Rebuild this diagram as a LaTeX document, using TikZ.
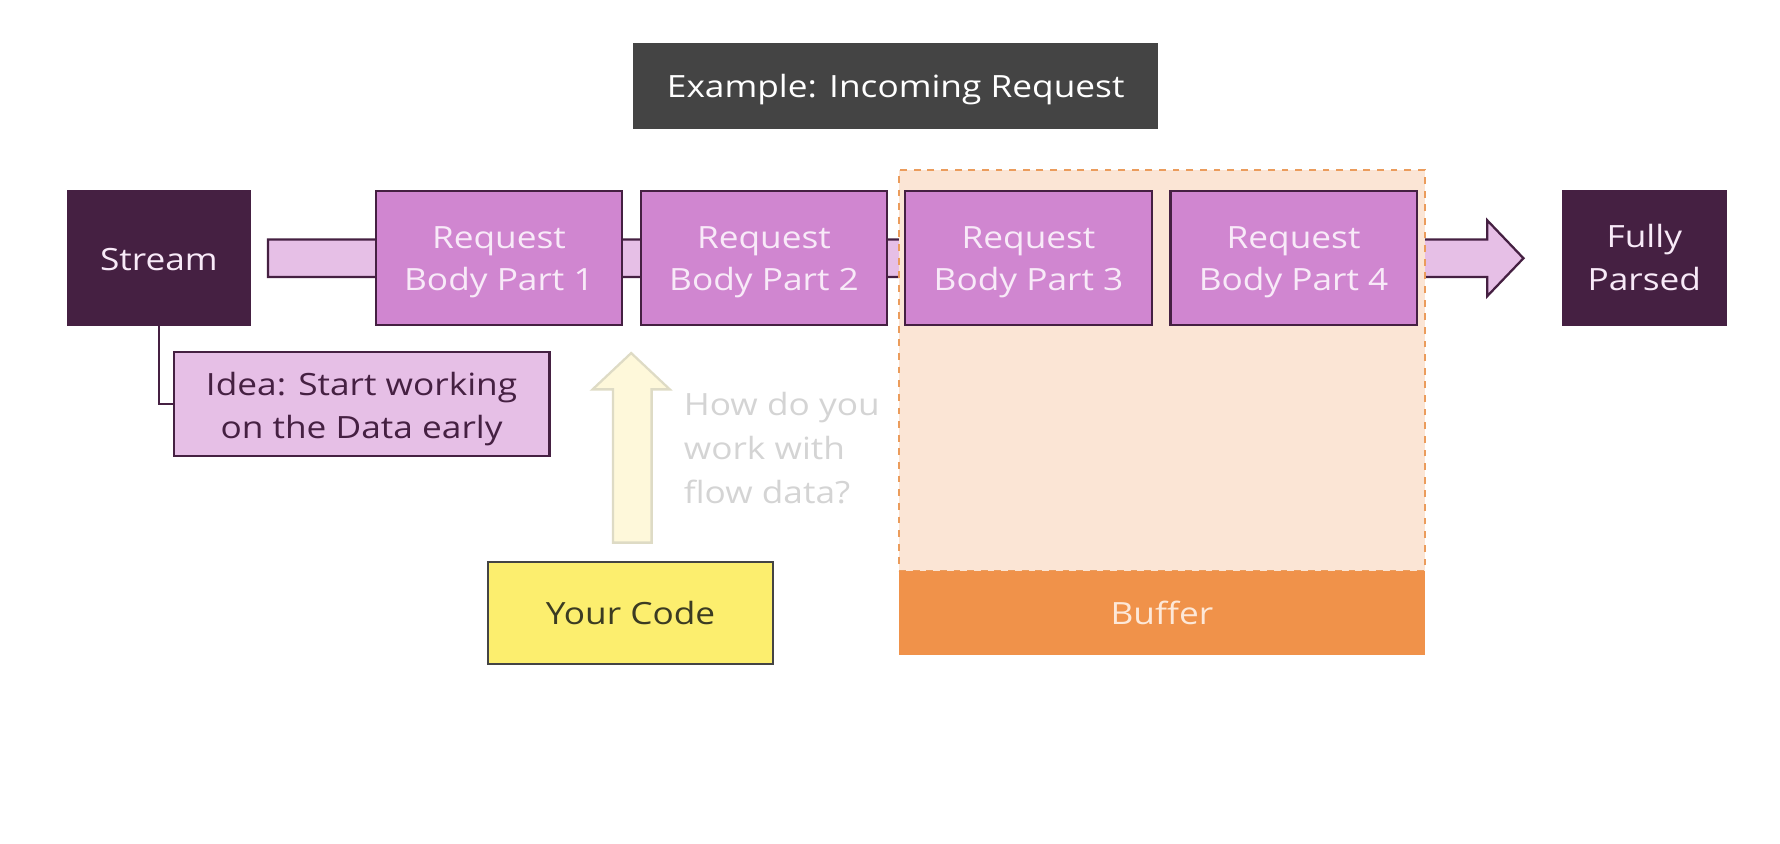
\documentclass[tikz,border=0pt]{standalone}
\usepackage{fontspec}
\setmainfont{Open Sans}[FakeStretch=1.15]
\usetikzlibrary{positioning}
\definecolor{titlegray}{HTML}{444444}
\definecolor{darkpurple}{HTML}{452042}
\definecolor{reqpurple}{HTML}{D086D0}
\definecolor{lightpurple}{HTML}{E6BFE6}
\definecolor{bufferbg}{HTML}{FBE5D5}
\definecolor{bufferline}{HTML}{EB9C5C}
\definecolor{bufferbar}{HTML}{F0924A}
\definecolor{buffertext}{HTML}{FDE8D8}
\definecolor{yellowarrow}{HTML}{FEF8DA}
\definecolor{yellowarrowline}{HTML}{DEDBC5}
\definecolor{questiongray}{HTML}{D4D4D4}
\definecolor{codeyellow}{HTML}{FCEE6E}
\definecolor{codetext}{HTML}{3B3B22}
\definecolor{lighttext}{HTML}{F8EAF8}
\newcommand\mystrut[1]{\rule{0pt}{#1}}
\begin{document}
\begin{tikzpicture}[x=0.5pt,y=-0.5pt,
  txt/.style={font=\fontsize{13.5pt}{18.8pt}\selectfont, align=center, inner sep=0pt},
  darkbox/.style={txt, draw=darkpurple, fill=darkpurple, text=lighttext, line width=1pt, minimum height=59pt},
  reqbox/.style={txt, draw=darkpurple, fill=reqpurple, text=lighttext, line width=1pt, minimum width=108.5pt, minimum height=59pt},
]
\useasboundingbox (0,0) rectangle (1568,743);
% pipe arrow
\draw[fill=lightpurple, draw=darkpurple, line width=1pt]
  (236,211) -- (1310,211) -- (1310,194) -- (1342,227.5) -- (1310,261) -- (1310,244) -- (236,244) -- cycle;
% buffer region
\node[draw=bufferline, fill=bufferbg, dashed, line width=0.8pt, minimum width=231.5pt, minimum height=176.5pt, inner sep=0pt] (bufregion) at (1023.5,326.5) {};
\node[txt, fill=bufferbar, text=buffertext, minimum width=231.5pt, minimum height=37pt] (buffer) at (1023.5,540) {Buffer};
% title
\node[txt, fill=titlegray, text=white, minimum width=231pt, minimum height=38pt] (title) at (789,76) {\mystrut{13.3pt}Example: Incoming Request};
% stream
\node[darkbox, minimum width=80pt] (stream) at (140,227) {\mystrut{11.3pt}Stream};
\node[reqbox] (rb1) at (439.5,227) {\mystrut{13.6pt}Request\\Body Part 1};
\node[reqbox] (rb2) at (673,227) {\mystrut{13.6pt}Request\\Body Part 2};
\node[reqbox] (rb3) at (906,227) {\mystrut{13.6pt}Request\\Body Part 3};
\node[reqbox] (rb4) at (1139.5,227) {\mystrut{13.6pt}Request\\Body Part 4};
\node[darkbox, minimum width=71.5pt] (parsed) at (1448.5,227) {Fully\\Parsed};
% idea
\node[txt, draw=darkpurple, fill=lightpurple, text=darkpurple, line width=1pt, minimum width=165.5pt, minimum height=46pt] (idea) at (318.5,356) {\mystrut{14.3pt}Idea: Start working\\on the Data early};
\draw[darkpurple, line width=1pt] (stream.south) |- (idea.west);
% your code
\node[txt, draw=titlegray, fill=codeyellow, text=codetext, line width=1pt, minimum width=125.5pt, minimum height=45pt] (code) at (555.5,540) {Your Code};
% yellow arrow
\draw[fill=yellowarrow, draw=yellowarrowline, line width=1pt]
  (540,478) -- (540,343) -- (522,343) -- (556,311) -- (590,343) -- (574,343) -- (574,478) -- cycle;
\node[txt, text=questiongray, align=left, anchor=north west, font=\fontsize{13.5pt}{19.3pt}\selectfont] (question) at (602,345) {How do you\\work with\\flow data?};
\end{tikzpicture}
\end{document}
